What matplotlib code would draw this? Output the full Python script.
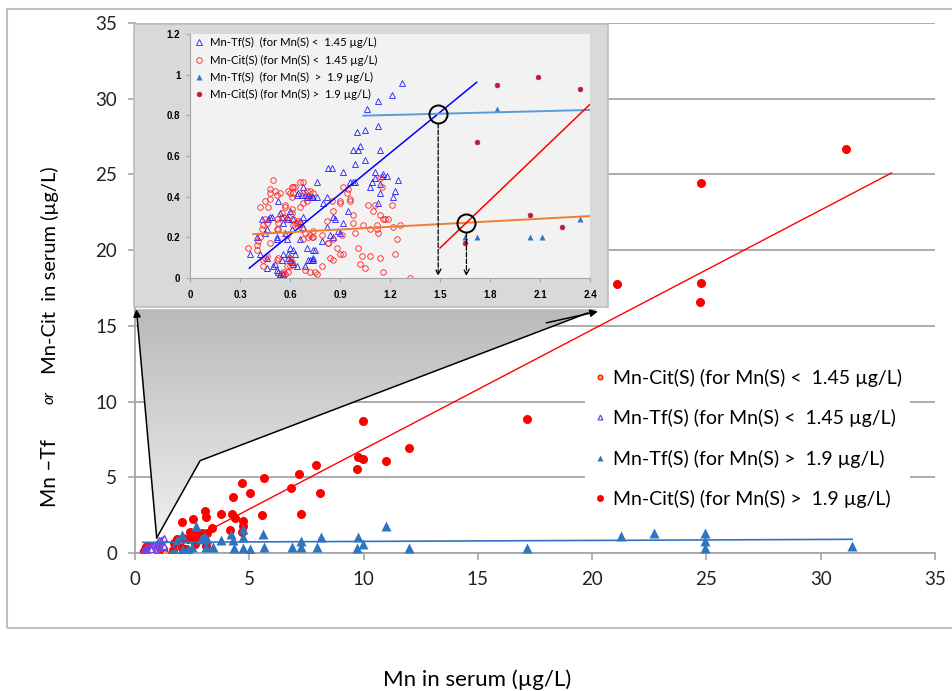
import numpy as np
import matplotlib
matplotlib.use('Agg')
import matplotlib.pyplot as plt
from matplotlib.patches import Polygon, Rectangle
from matplotlib.lines import Line2D
from matplotlib.colors import LinearSegmentedColormap

plt.rcParams['font.family'] = ['Lato', 'DejaVu Sans']

# ---- Mn-Tf(S) for Mn(S) < 1.45 ug/L (open triangles)
tf_low_x = [0.36, 0.40, 0.42, 0.43, 0.45, 0.46, 0.47, 0.48, 0.49, 0.46, 0.46, 0.50, 0.51, 0.52,
            0.53, 0.53, 0.54, 0.55, 0.56, 0.57, 0.52, 0.52, 0.58, 0.59, 0.59, 0.60, 0.61, 0.62,
            0.64, 0.63, 0.62, 0.60, 0.56, 0.55, 0.54, 0.54, 0.56, 0.56, 0.61, 0.62, 0.58, 0.59,
            0.60, 0.64, 0.65, 0.67, 0.68, 0.69, 0.70, 0.71, 0.72, 0.73, 0.74, 0.76, 0.76, 0.68,
            0.66, 0.66, 0.70, 0.72, 0.75, 0.74, 0.69, 0.71, 0.73, 0.74, 0.80, 0.82, 0.83, 0.85,
            0.86, 0.87, 0.89, 0.90, 0.92, 0.92, 0.95, 0.96, 0.98, 0.99, 0.98, 1.01, 1.02, 0.99,
            1.00, 1.05, 1.05, 1.06, 1.08, 1.09, 1.11, 1.11, 1.13, 1.13, 1.14, 1.14, 1.13, 1.14,
            1.15, 1.16, 1.18, 1.21, 1.22, 1.23, 1.25, 1.27, 0.84, 0.82, 0.86, 0.79, 0.74, 0.68]
tf_low_y = [0.12, 0.20, 0.12, 0.29, 0.22, 0.24, 0.29, 0.30, 0.30, 0.10, 0.05, 0.06, 0.07, 0.04,
            0.03, 0.38, 0.32, 0.30, 0.27, 0.22, 0.20, 0.19, 0.19, 0.12, 0.10, 0.09, 0.08, 0.07,
            0.06, 0.12, 0.14, 0.15, 0.12, 0.09, 0.02, 0.015, 0.02, 0.02, 0.24, 0.29, 0.30, 0.29,
            0.33, 0.41, 0.42, 0.41, 0.45, 0.41, 0.40, 0.41, 0.40, 0.40, 0.40, 0.40, 0.47, 0.30,
            0.28, 0.19, 0.15, 0.09, 0.14, 0.10, 0.06, 0.09, 0.09, 0.09, 0.37, 0.40, 0.54, 0.54,
            0.30, 0.29, 0.23, 0.22, 0.52, 0.27, 0.33, 0.47, 0.47, 0.47, 0.63, 0.63, 0.65, 0.56,
            0.72, 0.58, 0.73, 0.83, 0.45, 0.47, 0.49, 0.52, 0.87, 0.75, 0.63, 0.42, 0.37, 0.46,
            0.50, 0.51, 0.50, 0.90, 0.40, 0.43, 0.48, 0.96, 0.21, 0.25, 0.20, 0.18, 0.14, 0.25]

# ---- Mn-Cit(S) for Mn(S) < 1.45 ug/L (open circles)
cit_low_x = [0.35, 0.40, 0.40, 0.41, 0.42, 0.42, 0.43, 0.44, 0.45, 0.45, 0.46, 0.47, 0.48, 0.48,
             0.48, 0.50, 0.51, 0.52, 0.52, 0.52, 0.53, 0.53, 0.54, 0.55, 0.56, 0.57, 0.57, 0.58,
             0.58, 0.59, 0.60, 0.61, 0.61, 0.62, 0.63, 0.62, 0.61, 0.61, 0.62, 0.62, 0.63, 0.64,
             0.65, 0.66, 0.66, 0.68, 0.68, 0.68, 0.70, 0.70, 0.72, 0.74, 0.74, 0.71, 0.72, 0.73,
             0.74, 0.69, 0.67, 0.66, 0.58, 0.59, 0.60, 0.61, 0.60, 0.56, 0.55, 0.57, 0.52, 0.53,
             0.48, 0.46, 0.44, 0.44, 0.45, 0.68, 0.69, 0.72, 0.75, 0.76, 0.79, 0.79, 0.82, 0.83,
             0.83, 0.85, 0.86, 0.86, 0.88, 0.90, 0.90, 0.91, 0.92, 0.90, 0.92, 0.84, 0.86, 0.94,
             0.95, 0.96, 0.96, 0.98, 0.98, 0.99, 1.01, 1.02, 1.03, 1.04, 1.05, 1.07, 1.08, 1.08,
             1.10, 1.11, 1.12, 1.12, 1.13, 1.14, 1.14, 1.14, 1.15, 1.16, 1.16, 1.17, 1.19, 1.21,
             1.22, 1.23, 1.24, 1.26, 1.32]
cit_low_y = [0.15, 0.14, 0.16, 0.18, 0.35, 0.20, 0.24, 0.26, 0.29, 0.38, 0.27, 0.35, 0.44, 0.42,
             0.39, 0.48, 0.43, 0.41, 0.29, 0.24, 0.27, 0.24, 0.42, 0.32, 0.30, 0.35, 0.36, 0.29,
             0.21, 0.43, 0.42, 0.40, 0.45, 0.45, 0.45, 0.42, 0.32, 0.34, 0.29, 0.26, 0.27, 0.27,
             0.28, 0.35, 0.47, 0.37, 0.42, 0.47, 0.43, 0.38, 0.43, 0.42, 0.23, 0.20, 0.21, 0.20,
             0.20, 0.22, 0.24, 0.27, 0.06, 0.03, 0.06, 0.08, 0.10, 0.03, 0.02, 0.02, 0.09, 0.10,
             0.17, 0.11, 0.09, 0.06, 0.10, 0.19, 0.04, 0.03, 0.03, 0.02, 0.21, 0.06, 0.28, 0.17,
             0.17, 0.38, 0.33, 0.19, 0.15, 0.37, 0.38, 0.21, 0.45, 0.12, 0.12, 0.10, 0.09, 0.42,
             0.44, 0.38, 0.39, 0.31, 0.27, 0.22, 0.15, 0.07, 0.11, 0.26, 0.05, 0.36, 0.24, 0.11,
             0.33, 0.36, 0.26, 0.24, 0.22, 0.31, 0.10, 0.49, 0.45, 0.03, 0.29, 0.29, 0.29, 0.36,
             0.25, 0.12, 0.19, 0.26, 0.00]

# ---- Mn-Tf(S) for Mn(S) > 1.9 ug/L (filled triangles)
tf_high_x = [1.65, 1.72, 1.84, 2.04, 2.07, 2.11, 2.34, 2.48, 2.65, 2.87, 3.02, 3.14, 3.11, 3.40,
             3.75, 4.20, 4.30, 4.35, 4.71, 4.74, 4.74, 5.03, 5.59, 5.64, 6.85, 7.25, 7.25, 7.95,
             8.12, 9.76, 9.98, 9.72, 10.98, 11.99, 17.16, 21.25, 22.70, 24.93, 24.93, 24.93, 31.37]
tf_high_y = [0.20, 0.20, 0.83, 0.20, 1.22, 0.20, 0.29, 0.37, 1.78, 0.90, 1.19, 0.90, 0.37, 0.37,
             0.86, 1.26, 0.86, 0.31, 0.31, 1.08, 1.57, 0.24, 1.26, 0.37, 0.37, 0.81, 0.37, 0.37,
             1.08, 1.08, 0.57, 0.35, 1.78, 0.35, 0.31, 1.12, 1.34, 1.34, 0.79, 0.35, 0.48]

# ---- Mn-Cit(S) for Mn(S) > 1.9 ug/L (filled circles)
cit_high_x = [1.65, 1.72, 1.84, 2.04, 2.09, 2.23, 2.34, 2.07, 2.41, 2.55, 2.55, 2.62, 2.70, 2.84,
              2.92, 3.06, 3.11, 3.11, 3.14, 3.35, 3.75, 4.16, 4.23, 4.30, 4.37, 4.68, 4.69, 4.71,
              4.74, 5.03, 5.54, 5.64, 6.81, 7.19, 7.25, 7.92, 8.09, 9.70, 9.76, 9.98, 9.98, 10.98,
              11.98, 17.16, 21.07, 24.70, 24.75, 24.75, 31.09]
cit_high_y = [0.17, 0.67, 0.95, 0.31, 0.99, 0.25, 0.93, 2.05, 1.41, 2.22, 1.08, 0.59, 1.24, 0.97,
              1.30, 2.77, 2.36, 0.46, 1.30, 1.63, 2.58, 1.52, 2.58, 3.72, 2.29, 1.36, 4.65, 1.78,
              2.11, 3.94, 2.49, 4.98, 4.31, 5.22, 2.58, 5.81, 3.98, 5.55, 6.32, 6.19, 8.74, 6.08,
              6.91, 8.85, 17.75, 16.58, 17.83, 24.46, 26.68]

# trend lines: slope, intercept, x from, x to
fit_main_cit = [0.79, -1.05, 1.6, 33.1]
fit_main_tf = [0.0065, 0.70, 0.34, 31.37]
fit_in_tf_low = [0.670, -0.19, 0.356, 1.72]
fit_in_cit_low = [0.044, 0.199, 0.38, 2.4]
fit_in_tf_high = [0.0206, 0.777, 1.04, 2.4]
fit_in_cit_high = [0.785, -1.03, 1.5, 2.4]

main_ticks = [0, 5, 10, 15, 20, 25, 30, 35]
inset_xticks = [0, 0.3, 0.6, 0.9, 1.2, 1.5, 1.8, 2.1, 2.4]
inset_yticks = [0, 0.2, 0.4, 0.6, 0.8, 1.0, 1.2]
inset_ylabels = ['0', '0.2', '0.4', '0.6', '0.8', '1', '1.2']

lab_cit_low = 'Mn-Cit(S) (for Mn(S) <  1.45 µg/L)'
lab_tf_low = 'Mn-Tf(S) (for Mn(S) <  1.45 µg/L)'
lab_tf_high = 'Mn-Tf(S) (for Mn(S) >  1.9 µg/L)'
lab_cit_high = 'Mn-Cit(S) (for Mn(S) >  1.9 µg/L)'

W, H = 953, 691
def fx(px):
    return px / W
def fy(py):
    return 1 - py / H

def trend(a, fit, **kw):
    s, b, x0, x1 = fit
    xs = np.array([x0, x1])
    a.plot(xs, s * xs + b, **kw)

fig = plt.figure(figsize=(W / 100, H / 100), dpi=100)

# outer chart frame
fig.patches.append(Rectangle((fx(7), fy(628)), fx(960) - fx(7), fy(9) - fy(628),
                             transform=fig.transFigure, fill=False, ec='#c0c0c0', lw=1.5, zorder=0))

# ---------------- main chart
ax = fig.add_axes([fx(135), fy(553), fx(935) - fx(135), fy(23) - fy(553)])
ax.set_facecolor('none')
ax.set_xlim(0, 35)
ax.set_ylim(0, 35)
ax.set_xticks(main_ticks)
ax.set_yticks(main_ticks)
ax.yaxis.grid(True, color='#a6a6a6', lw=1.3)
ax.set_axisbelow(True)
for s in ['top', 'right']:
    ax.spines[s].set_visible(False)
for s in ['left', 'bottom']:
    ax.spines[s].set_color('#a6a6a6')
    ax.spines[s].set_linewidth(1.3)
ax.tick_params(length=5, width=1.2, color='#a6a6a6', labelsize=13.5, pad=8, labelcolor='#222222')

ax.plot(cit_low_x, cit_low_y, 'o', ms=4.5, mfc='#f39c33', mec='red', mew=0.8, zorder=3)
ax.plot(tf_low_x, tf_low_y, '^', ms=4.5, mfc='white', mec='#7b3fe0', mew=1.0, zorder=3)
ax.plot(cit_high_x, cit_high_y, 'o', ms=6.5, color='#ff0000', mec='none', zorder=3)
ax.plot(tf_high_x, tf_high_y, '^', ms=7, color='#2e75c0', mec='none', zorder=3)
trend(ax, fit_main_cit, color='#ff0000', lw=1.0, zorder=4)
trend(ax, fit_main_tf, color='#2e75c0', lw=1.2, zorder=4)

# zoom funnel from the inset down to the low-Mn cluster
funnel = [(0.05, 16.1), (0.95, 1.0), (2.85, 6.1), (20.25, 16.1)]
poly = Polygon(funnel, closed=True, fc='none', ec='none')
ax.add_patch(poly)
grad = np.linspace(0, 1, 256).reshape(-1, 1)
cm = LinearSegmentedColormap.from_list('funnel', ['#bababa', '#efefef'])
im = ax.imshow(grad, extent=[0.05, 20.25, 1.0, 16.1], origin='upper', aspect='auto',
               cmap=cm, zorder=5)
im.set_clip_path(poly)
ax.plot([0.95, 2.85, 19.8], [1.0, 6.1, 15.85], color='black', lw=1.1, zorder=6)
ax.annotate('', xy=(0.06, 16.1), xytext=(0.95, 1.0),
            arrowprops=dict(arrowstyle='-|>', color='black', lw=1.1, mutation_scale=11,
                            shrinkA=0, shrinkB=0), zorder=6)
ax.annotate('', xy=(20.25, 15.95), xytext=(18.0, 15.2),
            arrowprops=dict(arrowstyle='-|>', color='black', lw=1.1, mutation_scale=11,
                            shrinkA=0, shrinkB=0), zorder=6)
ax.set_xlim(0, 35)
ax.set_ylim(0, 35)

h_cit_low = Line2D([], [], ls='none', marker='o', ms=3.5, mfc='#f39c33', mec='red', mew=0.8)
h_tf_low = Line2D([], [], ls='none', marker='^', ms=3.5, mfc='white', mec='#7b3fe0', mew=0.9)
h_tf_high = Line2D([], [], ls='none', marker='^', ms=5, color='#2e75c0', mec='none')
h_cit_high = Line2D([], [], ls='none', marker='o', ms=5, color='#ff0000', mec='none')
leg = ax.legend([h_cit_low, h_tf_low, h_tf_high, h_cit_high],
                [lab_cit_low, lab_tf_low, lab_tf_high, lab_cit_high],
                loc='upper left', bbox_to_anchor=(fx(585), fy(361)), bbox_transform=fig.transFigure,
                fontsize=14, frameon=True, facecolor='white', edgecolor='none', framealpha=1,
                fancybox=False, borderpad=0.4, labelspacing=1.15, handlelength=0.7,
                handletextpad=0.35, borderaxespad=0)
leg.set_zorder(7)

# axis titles
fig.text(fx(477), fy(680), 'Mn in serum (µg/L)', ha='center', va='center', fontsize=16)
fig.text(fx(50), fy(507), 'Mn –Tf', rotation=90, rotation_mode='anchor', ha='left',
         va='center', fontsize=15)
fig.text(fx(50), fy(404), 'or', rotation=90, rotation_mode='anchor', ha='left',
         va='center', fontsize=11, style='italic')
fig.text(fx(50), fy(374), 'Mn-Cit  in serum (µg/L)', rotation=90, rotation_mode='anchor',
         ha='left', va='center', fontsize=14.5)

# ---------------- inset chart
fig.patches.append(Rectangle((fx(134), fy(307)), fx(608) - fx(134), fy(24) - fy(307),
                             transform=fig.transFigure, fc='#d9d9d9', ec='#bdbdbd', lw=1.2, zorder=1))
ins = fig.add_axes([fx(190), fy(278), fx(590) - fx(190), fy(34) - fy(278)], zorder=2)
ins.set_facecolor('#f2f2f2')
ins.set_xlim(0, 2.4)
ins.set_ylim(0, 1.2)
ins.set_xticks(inset_xticks)
ins.set_xticklabels([f'{v:g}' for v in inset_xticks])
ins.set_yticks(inset_yticks)
ins.set_yticklabels(inset_ylabels)
for s in ['top', 'right']:
    ins.spines[s].set_visible(False)
for s in ['left', 'bottom']:
    ins.spines[s].set_color('#a6a6a6')
    ins.spines[s].set_linewidth(0.8)
ins.tick_params(length=3, width=0.8, color='#a6a6a6', labelsize=7, pad=4)
for t in ins.get_xticklabels() + ins.get_yticklabels():
    t.set_fontfamily(['Liberation Sans', 'DejaVu Sans'])
    t.set_fontweight('bold')
ins.tick_params(axis='x', pad=6)

p1, = ins.plot(tf_low_x, tf_low_y, '^', ms=4, mfc='none', mec='#1f1fff', mew=0.6,
               label='Mn-Tf(S)  (for Mn(S) <  1.45 µg/L)')
p2, = ins.plot(cit_low_x, cit_low_y, 'o', ms=4, mfc='none', mec='#ff2020', mew=0.6,
               label='Mn-Cit(S) (for Mn(S) <  1.45 µg/L)')
p3, = ins.plot(tf_high_x, tf_high_y, '^', ms=3.8, color='#3a75c4', mec='none',
               label='Mn-Tf(S)  (for Mn(S)  >  1.9 µg/L)')
p4, = ins.plot(cit_high_x, cit_high_y, 'o', ms=3.5, color='#c8143c', mec='#9b2a6a', mew=0.4,
               label='Mn-Cit(S) (for Mn(S) >  1.9 µg/L)')
trend(ins, fit_in_tf_low, color='#0000ff', lw=1.1)
trend(ins, fit_in_cit_low, color='#ed7d31', lw=1.4)
trend(ins, fit_in_tf_high, color='#5b9bd5', lw=1.4)
trend(ins, fit_in_cit_high, color='#ff0000', lw=1.1)

# intersections of the trend lines, circled and dropped to the x axis
for fa, fb in [(fit_in_tf_low, fit_in_tf_high), (fit_in_cit_low, fit_in_cit_high)]:
    xi = (fb[1] - fa[1]) / (fa[0] - fb[0])
    yi = fa[0] * xi + fa[1]
    ins.plot([xi], [yi], 'o', ms=13, mfc='none', mec='black', mew=1.4, zorder=5)
    ins.annotate('', xy=(xi, 0.01), xytext=(xi, yi),
                 arrowprops=dict(arrowstyle='->', color='black', lw=0.9, ls='--',
                                 shrinkA=7, shrinkB=0, mutation_scale=10), zorder=5)

ins.legend(handles=[p1, p2, p3, p4], loc='upper left', bbox_to_anchor=(0.0, 1.0),
           fontsize=8.2, frameon=False, borderpad=0.2, labelspacing=0.55, handlelength=1.0,
           handletextpad=0.45, borderaxespad=0.1)

fig.savefig('out.png', dpi=100)
